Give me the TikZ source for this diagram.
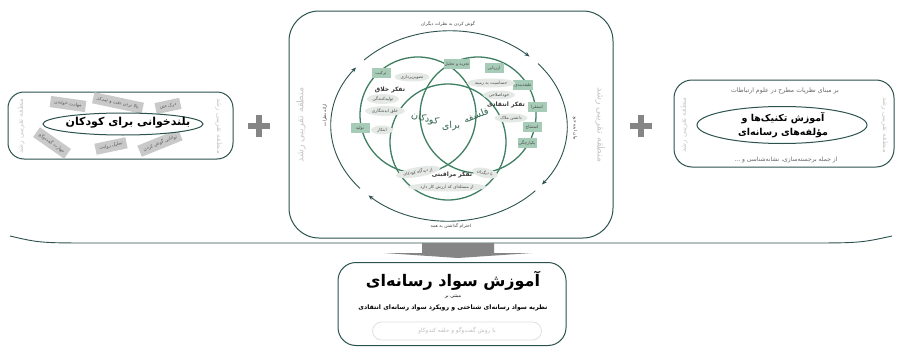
\documentclass[tikz,border=0pt]{standalone}
\usepackage{fontspec}
\usetikzlibrary{shapes.geometric,arrows.meta}
\newfontfamily\farsi[Script=Arabic]{DejaVu Sans}
\TeXXeTstate=1
\newcommand{\fa}[1]{{\farsi\beginR #1\endR}}
\newcommand{\fsz}[1]{\fontsize{#1}{#1}\selectfont}
\definecolor{frame}{HTML}{2B524E}
\definecolor{venn}{HTML}{3E7F62}
\definecolor{tagfill}{HTML}{A6CBB7}
\definecolor{ovalfill}{HTML}{E4E9E6}
\definecolor{greytag}{HTML}{C9C9C9}
\definecolor{zpd}{HTML}{C8C8C8}
\definecolor{plusgrey}{HTML}{858585}

\begin{document}
\begin{tikzpicture}[x=1pt,y=-1pt,
    panel/.style={draw=frame,line width=1pt,rounded corners=#1,fill=white,inner sep=0pt},
    zpdlabel/.style={text=zpd,font=\fsz{#1}},
    greytagbox/.style={fill=greytag,text=black!65,font=\fsz{4.6},inner xsep=4pt,minimum height=10pt},
    mainoval/.style={draw=frame,line width=1pt,ellipse,fill=white,inner sep=0pt},
    venncircle/.style={draw=venn,line width=1.3pt,circle,minimum size=116pt,inner sep=0pt},
    vtag/.style={fill=tagfill,text=black!70,font=\fsz{4.3},minimum width=19pt,minimum height=10pt,inner sep=1pt},
    voval/.style={fill=ovalfill,ellipse,text=black!70,font=\fsz{4.3},minimum height=9pt,inner sep=1pt},
    vtitle/.style={text=black!80,font=\fsz{6}\bfseries},
    smalltext/.style={text=black!75,font=\fsz{4.4}},
    cyclearc/.style={draw=frame,line width=0.9pt,-{Stealth[length=5pt,width=4pt]}},
    plussign/.style={draw=plusgrey,line width=6.5pt}]

    \fill[white] (0,0) rectangle (900,348);
    \useasboundingbox (0,0) rectangle (900,348);

    % left panel
    \node[panel=16pt,minimum width=225pt,minimum height=67pt] (readpanel) at (120.5,125.5) {};
    \node[zpdlabel=7,rotate=90] (readzpdl) at (21,126) {\fa{منطقه تقریبی رشد}};
    \node[zpdlabel=7,rotate=-90] (readzpdr) at (219,126) {\fa{منطقه تقریبی رشد}};
    \node[greytagbox,rotate=-8] (read1) at (68,104) {\fa{مهارت خواندن}};
    \node[greytagbox,rotate=-12] (read2) at (118,103) {\fa{بالا بردن دقت و تمرکز}};
    \node[greytagbox,rotate=12] (read3) at (168,106) {\fa{درک متن}};
    \node[greytagbox,rotate=-35] (read4) at (52,143) {\fa{مهارت گفت‌وگو}};
    \node[greytagbox,rotate=12] (read5) at (111,146) {\fa{تحلیل روایت}};
    \node[greytagbox,rotate=22] (read6) at (160,143) {\fa{توانایی گوش کردن}};
    \node[mainoval,minimum width=160pt,minimum height=22pt] (readoval) at (123,124) {};
    \node[font=\fsz{11}\bfseries] (readtitle) at (128,123) {\fa{بلندخوانی برای کودکان}};

    % plus signs
    \foreach \px in {259,641} {
        \draw[plussign] (\px-11,126) -- (\px+11,126);
        \draw[plussign] (\px,115) -- (\px,137);
    }

    % centre panel
    \node[panel=30pt,minimum width=324pt,minimum height=227pt] (p4cpanel) at (451,124.5) {};
    \node[zpdlabel=9.5,rotate=90] (p4czpdl) at (301,125) {\fa{منطقه تقریبی رشد}};
    \node[zpdlabel=9.5,rotate=-90] (p4czpdr) at (600,125) {\fa{منطقه تقریبی رشد}};

    \coordinate (cyc) at (449,126);
    \foreach \a/\b in {136/47,41/-38,-43/-133,221/142}
        \draw[cyclearc] ([shift={(\a:118pt and 95pt)}]cyc) arc[start angle=\a,end angle=\b,x radius=118pt,y radius=95pt];
    \node[smalltext] (cyctop) at (448,24) {\fa{گوش کردن به نظرات دیگران}};
    \node[smalltext] (cycbottom) at (451,226) {\fa{احترام گذاشتن به همه}};
    \node[smalltext,rotate=90] (cycleft) at (325,115) {\fa{ارائه نظرات}};
    \node[smalltext,rotate=-90] (cycright) at (575,128) {\fa{بیان ایده خود}};

    \node[venncircle] (creative) at (418,115) {};
    \node[venncircle] (critical) at (478,115) {};
    \node[venncircle] (caring) at (448,142) {};

    \node[vtitle] (creativetitle) at (390,90) {\fa{تفکر خلاق}};
    \node[vtitle] (criticaltitle) at (506,105) {\fa{تفکر انتقادی}};
    \node[vtitle] (caringtitle) at (452,175) {\fa{تفکر مراقبتی}};

    \node[text=venn!80!black,font=\fsz{9.5},rotate=22] (p4cword1) at (476,115) {\fa{فلسفه}};
    \node[text=venn!80!black,font=\fsz{9.5},rotate=4] (p4cword2) at (451,126) {\fa{برای}};
    \node[text=venn!80!black,font=\fsz{9.5},rotate=-16] (p4cword3) at (425,119) {\fa{کودکان}};

    \node[vtag] (tag1) at (381,73) {\fa{ترکیب}};
    \node[vtag] (tag2) at (457,64) {\fa{تجزیه و تحلیل}};
    \node[vtag] (tag3) at (494,68) {\fa{ارزیابی}};
    \node[vtag] (tag4) at (523,85) {\fa{طبقه‌بندی}};
    \node[vtag] (tag5) at (537,107) {\fa{استقرا}};
    \node[vtag] (tag6) at (532,127) {\fa{استنتاج}};
    \node[vtag] (tag7) at (527,143) {\fa{یکپارچگی}};
    \node[vtag] (tag8) at (360,128) {\fa{تولید}};

    \node[voval,minimum width=32pt] (oval1) at (412,77) {\fa{تصویرپردازی}};
    \node[voval,minimum width=28pt] (oval2) at (383,99) {\fa{تولیدکنندگی}};
    \node[voval,minimum width=36pt] (oval3) at (385,111) {\fa{خلق ایده‌نگاری}};
    \node[voval,minimum width=22pt] (oval4) at (382,130) {\fa{ابتکار}};
    \node[voval,minimum width=42pt] (oval5) at (491,83) {\fa{حساسیت به زمینه}};
    \node[voval,minimum width=32pt] (oval6) at (499,95) {\fa{خوداصلاحی}};
    \node[voval,minimum width=28pt] (oval7) at (511,118) {\fa{داشتن ملاک}};
    \node[voval,minimum width=26pt,rotate=-12] (oval8) at (485,173) {\fa{با دیگران}};
    \node[voval,minimum width=38pt,rotate=10] (oval9) at (418,172) {\fa{از دیدگاه کودکان}};
    \node[voval,minimum width=68pt] (oval10) at (447,187) {\fa{از مسئله‌ای که ارزش کار دارد}};

    % right panel
    \node[panel=18pt,minimum width=220pt,minimum height=87pt] (mediapanel) at (784,123.5) {};
    \node[zpdlabel=7,rotate=90] (mediazpdl) at (684,125) {\fa{منطقه تقریبی رشد}};
    \node[zpdlabel=7,rotate=-90] (mediazpdr) at (885,125) {\fa{منطقه تقریبی رشد}};
    \node[text=black!60,font=\fsz{6.2}] (mediatop) at (785,91) {\fa{بر مبنای نظریات مطرح در علوم ارتباطات}};
    \node[mainoval,minimum width=170pt,minimum height=37pt] (mediaoval) at (782,125) {};
    \node[font=\fsz{9.5}\bfseries,align=center] (mediatitle) at (783,125) {\fa{آموزش تکنیک‌ها و}\\[3pt]\fa{مؤلفه‌های رسانه‌ای}};
    \node[text=black!60,font=\fsz{6}] (mediabottom) at (786,160) {\fa{از جمله برجسته‌سازی، نشانه‌شناسی و ...}};

    % brace and arrow
    \draw[frame,line width=0.9pt] (10,236) .. controls (40,243) .. (100,243) -- (800,243) .. controls (860,243) .. (892,236);
    \fill[plusgrey] (422,243) -- (494,243) -- (494,253) -- (532,253) -- (458,258) -- (384,253) -- (422,253) -- cycle;

    % bottom panel
    \node[panel=18pt,minimum width=228pt,minimum height=83pt] (literacypanel) at (452,304) {};
    \node[font=\fsz{16}\bfseries] (literacytitle) at (453,281) {\fa{آموزش سواد رسانه‌ای}};
    \node[font=\fsz{4.8}] (literacybased) at (453,297) {\fa{مبتنی بر}};
    \node[font=\fsz{6.2}\bfseries] (literacytheory) at (453,308) {\fa{نظریه سواد رسانه‌ای شناختی و رویکرد سواد رسانه‌ای انتقادی}};
    \node[draw=black!12,line width=0.8pt,rounded corners=9pt,minimum width=169pt,minimum height=18pt,text=black!25,font=\fsz{5.8}] (literacymethod) at (457,331) {\fa{با روش گفت‌وگو و حلقه کندوکاو}};
\end{tikzpicture}
\end{document}
